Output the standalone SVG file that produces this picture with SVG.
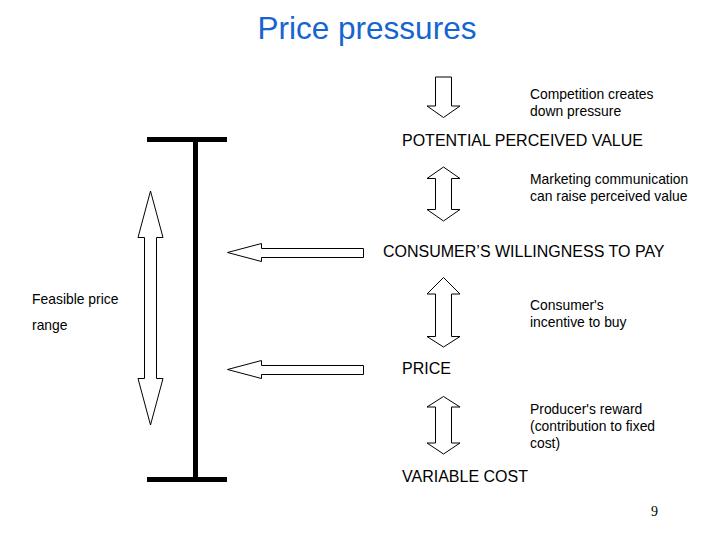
<svg xmlns="http://www.w3.org/2000/svg" width="720" height="540" viewBox="0 0 720 540">
<style>
.t{font-family:"Liberation Sans",Arial,sans-serif;fill:#000}
.s{font-size:13.9px}
.b{font-size:16px}
.ar{fill:#fff;stroke:#000;stroke-width:1;stroke-linejoin:miter}
.bar{stroke:#000;stroke-width:5;fill:none}
</style>
<rect width="720" height="540" fill="#fff"/>
<text x="367" y="39" text-anchor="middle" style="font-family:'Liberation Sans',Arial,sans-serif;font-size:31.5px;fill:#1565d0">Price pressures</text>
<g id="connectors">
<path class="bar" d="M147 139.5H227M195.5 139.5V479.5M147 479.5H227"/>
<path id="range-arrow" class="ar" d="M150.5 191L163 237.5H156.5V378.5H163L150.5 425L138 378.5H144.5V237.5H138Z"/>
<path id="arrow-wtp" class="ar" d="M227.5 252.5L261.5 243.5V248.5H363.5V257.5H261.5V261.5Z"/>
<path id="arrow-price" class="ar" d="M227.5 369.5L261.5 360.5V365.5H363.5V374.5H261.5V378.5Z"/>
<path id="arrow-comp" class="ar" d="M435.5 77H451.5V106H460L443.5 117.5L427 106H435.5Z"/>
<path id="arrow-mkt" class="ar" d="M443.5 167L460 178.5H451.5V209.5H460L443.5 221L427 209.5H435.5V178.5H427Z"/>
<path id="arrow-inc" class="ar" d="M443.5 277.5L460 294H451.5V336.5H460L443.5 347L427 336.5H435.5V294H427Z"/>
<path id="arrow-rew" class="ar" d="M443.5 396.5L460 407H451.5V443H460L443.5 454L427 443H435.5V407H427Z"/>
</g>
<g id="competition"><text class="t s" x="530" y="99">Competition creates</text><text class="t s" x="530" y="116">down pressure</text></g>
<g id="ppv"><text class="t b" x="402" y="146">POTENTIAL PERCEIVED VALUE</text></g>
<g id="marketing"><text class="t s" x="530" y="184">Marketing communication</text><text class="t s" x="530" y="201">can raise perceived value</text></g>
<g id="wtp"><text class="t b" x="383" y="257">CONSUMER’S WILLINGNESS TO PAY</text></g>
<g id="feasible"><text class="t s" x="32" y="304">Feasible price</text><text class="t s" x="32" y="330">range</text></g>
<g id="incentive"><text class="t s" x="530" y="310">Consumer's</text><text class="t s" x="530" y="327">incentive to buy</text></g>
<g id="price"><text class="t b" x="402" y="374">PRICE</text></g>
<g id="reward"><text class="t s" x="530" y="414">Producer's reward</text><text class="t s" x="530" y="431">(contribution to fixed</text><text class="t s" x="530" y="448">cost)</text></g>
<g id="varcost"><text class="t b" x="402" y="482">VARIABLE COST</text></g>
<text x="651" y="516" style="font-family:'Liberation Serif','Times New Roman',serif;font-size:14px">9</text>
</svg>
